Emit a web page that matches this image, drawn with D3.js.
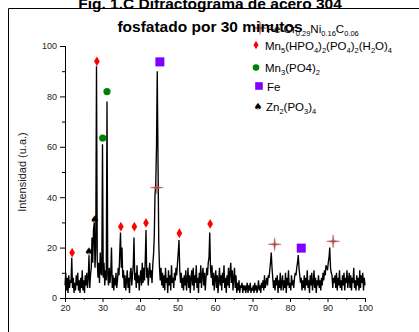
<!DOCTYPE html>
<html>
<head>
<meta charset="utf-8">
<script src="https://cdn.jsdelivr.net/npm/d3@7"></script>
<style>
  body { margin: 0; background: #fff; }
  svg { display: block; font-family: Arial, "Liberation Sans", sans-serif; }
</style>
</head>
<body>
<div id="chart"></div>
<script>
// diffractogram, 2theta from 20 to 100, step 0.2
const thetaStart = 20, thetaStep = 0.2;
const intensity = [
  5,10,3,8,2,9,4,7,6,16,
  4,8,2,6,3,9,5,10,3,7,
  2,8,4,11,3,7,2,9,5,10,
  4,8,17,4,9,12,24,14,27,30,
  12,20,92,15,8,14,6,18,10,9,
  61,8,14,5,11,7,78,9,5,12,
  6,10,20,4,9,3,8,5,10,4,
  7,12,9,18,26,12,20,8,11,4,
  9,3,7,11,4,8,2,10,12,5,
  9,13,24,7,10,4,13,6,9,3,
  8,11,5,14,6,12,7,15,27,8,
  12,5,10,14,8,11,6,13,17,24,
  41,45,60,90,55,22,12,7,12,5,
  10,4,9,3,12,6,8,2,11,5,
  9,3,13,6,8,4,10,7,12,9,
  14,18,23,11,6,10,4,8,3,9,
  5,11,3,7,12,4,9,2,8,11,
  5,12,3,9,6,13,4,8,2,10,
  6,13,4,9,12,5,10,3,8,12,
  9,14,16,26,12,8,13,5,10,3,
  8,11,4,9,2,7,12,5,9,3,
  10,6,13,4,8,2,9,5,12,4,
  10,14,6,11,3,8,12,4,9,2,
  6,3,7,2,5,4,6,2,5,3,
  5,2,4,6,2,5,3,6,2,4,
  3,5,2,6,3,5,2,4,7,3,
  5,2,6,4,7,3,9,4,6,8,
  5,9,8,11,14,18,12,8,4,7,
  3,8,5,9,2,7,4,10,3,6,
  9,3,7,4,10,2,8,5,11,4,
  6,3,9,5,7,4,8,10,9,12,
  14,17,12,9,6,8,3,7,4,9,
  3,8,5,11,4,7,2,9,5,10,
  3,6,11,4,8,2,7,5,9,4,
  7,3,8,5,10,7,11,9,13,12,
  11,14,16,20,12,10,9,4,8,6,
  9,4,10,3,8,5,11,4,7,3,
  9,5,10,3,8,6,11,4,7,10,
  4,9,3,8,6,12,4,7,3,9,
  5,8,3,11,4,9,6,10,3,8,
  5
];

// phase markers [2theta, intensity]
const fecrniPeaks = [[44.5, 43.8], [75.9, 21.3], [91.5, 22.5]];
const mn5Peaks = [[21.9, 18.0], [28.5, 93.9], [34.9, 28.3], [38.5, 28.3], [41.6, 29.8], [50.5, 25.7], [58.7, 29.4]];
const mn3Peaks = [[30.05, 63.5], [31.2, 81.9]];
const fePeaks = [[45.3, 93.7], [83.0, 19.8]];
const znPeaks = [[26.4, 18.7], [27.9, 31.4]];

const xTicks = [20, 30, 40, 50, 60, 70, 80, 90, 100];
const yTicks = [0, 20, 40, 60, 80, 100];
const titleLines = ["Fig. 1.C Difractograma de acero 304", "fosfatado por 30 minutos"];
const legendNames = [
  "Fe Cr_{0.29}Ni_{0.16}C_{0.06}",
  "Mn_{5}(HPO_{4})_{2}(PO_{4})_{2}(H_{2}O)_{4}",
  "Mn_{3}(PO4)_{2}",
  "Fe",
  "Zn_{2}(PO_{3})_{4}"
];

const W = 419, H = 332;
const margin = { top: 46, left: 65 };
const plotW = 300, plotH = 252;

const svg = d3.select("#chart").append("svg")
  .attr("width", W).attr("height", H);

// outer figure frame (runs past the picture edge)
svg.append("path")
  .attr("d", `M8.5,${H + 5}V8.5H${W + 5}`)
  .attr("fill", "none").attr("stroke", "#000").attr("stroke-width", 1);

const x = d3.scaleLinear().domain([20, 100]).range([margin.left, margin.left + plotW]);
const y = d3.scaleLinear().domain([0, 100]).range([margin.top + plotH, margin.top]);

// axes
const gx = svg.append("g")
  .attr("transform", `translate(0,${margin.top + plotH})`)
  .call(d3.axisBottom(x).tickValues(xTicks).tickSize(4).tickPadding(3));
gx.append("g").call(d3.axisBottom(x).tickValues(d3.range(25, 100, 10)).tickSize(2).tickFormat(""));
const gy = svg.append("g")
  .attr("transform", `translate(${margin.left},0)`)
  .call(d3.axisLeft(y).tickValues(yTicks).tickSize(5).tickPadding(3));
gy.append("g").call(d3.axisLeft(y).tickValues(d3.range(10, 100, 20)).tickSize(3).tickFormat(""));
svg.selectAll(".tick text").attr("font-size", 9).attr("fill", "#222").attr("font-family", "Arial, 'Liberation Sans', sans-serif");
svg.selectAll(".domain, .tick line").attr("stroke", "#000");

// trace
const trace = intensity.map((v, i) => [thetaStart + i * thetaStep, v]);
svg.append("path")
  .datum(trace)
  .attr("fill", "none")
  .attr("stroke", "#000")
  .attr("stroke-width", 1.35)
  .attr("d", d3.line().x(d => x(d[0])).y(d => y(d[1])));

// marker shapes
const starPath = (r) => {
  const p = [];
  for (let k = 0; k < 8; k++) {
    const a = k * Math.PI / 4 - Math.PI / 2;
    const rr = k % 2 ? r * 0.18 : r;
    p.push([rr * Math.cos(a), rr * Math.sin(a)]);
  }
  return "M" + p.map(q => q.join(",")).join("L") + "Z";
};
const markers = [
  { data: fecrniPeaks, draw: g => g.append("path").attr("d", starPath(6.5)).attr("fill", "#a84646").attr("stroke", "#c27070").attr("stroke-width", 0.6) },
  { data: mn5Peaks, draw: g => g.append("path").attr("d", d3.symbol(d3.symbolDiamond, 28)()).attr("fill", "#ff0000") },
  { data: mn3Peaks, draw: g => g.append("circle").attr("r", 3.6).attr("fill", "#008000") },
  { data: fePeaks, draw: g => g.append("rect").attr("x", -4.5).attr("y", -4.5).attr("width", 9).attr("height", 9).attr("fill", "#8000ff") },
  { data: znPeaks, draw: g => g.append("text").attr("text-anchor", "middle").attr("dy", "0.35em").attr("font-size", 10.5).attr("font-family", "DejaVu Sans").text("\u2660") }
];
markers.forEach(m => {
  m.data.forEach(d => {
    const g = svg.append("g").attr("transform", `translate(${x(d[0])},${y(d[1])})`);
    m.draw(g);
  });
});

// legend
const legendRows = [
  { sy: 28, sx: 260, tx: 267 },
  { sy: 45, sx: 256, tx: 265 },
  { sy: 67.5, sx: 256, tx: 265 },
  { sy: 86, sx: 259, tx: 267 },
  { sy: 106, sx: 258, tx: 266 }
];
const legendSymbolDraw = [
  g => g.append("path").attr("d", starPath(6.5)).attr("fill", "#a84646").attr("stroke", "#c27070").attr("stroke-width", 0.6),
  g => g.append("path").attr("d", d3.symbol(d3.symbolDiamond, 22)()).attr("fill", "#ff0000"),
  g => g.append("circle").attr("r", 3.3).attr("fill", "#008000"),
  g => g.append("rect").attr("x", -3.8).attr("y", -3.8).attr("width", 7.6).attr("height", 7.6).attr("fill", "#8000ff"),
  g => g.append("text").attr("text-anchor", "middle").attr("dy", "0.35em").attr("font-size", 10).attr("font-family", "DejaVu Sans").text("\u2660")
];
legendNames.forEach((name, i) => {
  const row = legendRows[i];
  legendSymbolDraw[i](svg.append("g").attr("transform", `translate(${row.sx},${row.sy})`));
  const t = svg.append("text").attr("x", row.tx).attr("y", row.sy + 4.5)
    .attr("font-size", 11.5).attr("fill", "#000");
  const parts = name.split(/(_\{[^}]*\})/).filter(s => s.length);
  let sub = false;
  parts.forEach(p => {
    if (p.startsWith("_{")) {
      t.append("tspan").attr("font-size", 7.5).attr("dy", sub ? 0 : 3).text(p.slice(2, -1));
      sub = true;
    } else {
      t.append("tspan").attr("dy", sub ? -3 : 0).text(p);
      sub = false;
    }
  });
});

// axis titles
svg.append("text")
  .attr("transform", `translate(26,${margin.top + plotH / 2}) rotate(-90)`)
  .attr("text-anchor", "middle").attr("font-size", 11).attr("fill", "#222")
  .text("Intensidad (u.a.)");
svg.append("text")
  .attr("x", margin.left + plotW / 2).attr("y", 341)
  .attr("text-anchor", "middle").attr("font-size", 12).attr("fill", "#222")
  .text("2 \u03b8");

// title (drawn on top of the legend, as in the original)
svg.selectAll(".title").data(titleLines).enter().append("text")
  .attr("x", 210).attr("y", (d, i) => 9 + i * 22.5)
  .attr("text-anchor", "middle").attr("font-size", 15.5).attr("font-weight", "bold").attr("fill", "#000")
  .text(d => d);
</script>
</body>
</html>
